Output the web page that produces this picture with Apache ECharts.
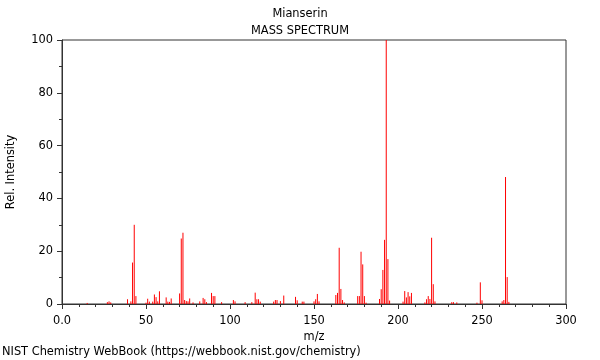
<!DOCTYPE html>
<html>
<head>
<meta charset="utf-8">
<script src="https://cdn.jsdelivr.net/npm/echarts@6/dist/echarts.min.js"></script>
<style>
html,body{margin:0;padding:0;background:#fff;}
#chart{width:600px;height:360px;}
</style>
</head>
<body>
<div id="chart"></div>
<script>
const chartTitle = "Mianserin";
const chartSubtitle = "MASS SPECTRUM";
const xLabel = "m/z";
const yLabel = "Rel. Intensity";
const footer = "NIST Chemistry WebBook (https://webbook.nist.gov/chemistry)";

const mz = [15,27,28,29,39,41,42,43,44,50,51,52,54,55,56,57,58,62,63,64,65,70,71,72,73,74,75,76,78,82,84,85,86,89,90,91,95,102,103,109,113,115,116,117,118,126,127,128,130,132,139,140,143,144,150,151,152,153,163,164,165,166,167,168,176,177,178,179,180,181,189,190,191,192,193,194,195,203,204,205,206,207,208,216,217,218,219,220,221,222,232,233,235,247,249,250,262,263,264,265,266];
const intensity = [0.4,0.7,1.0,0.6,1.8,1.0,15.7,30.0,3.0,0.5,2.0,0.9,0.9,3.6,2.6,1.0,4.8,2.5,0.9,0.8,2.1,4.0,24.8,27.0,1.5,1.1,1.0,2.1,0.6,1.0,2.3,1.8,0.7,4.2,3.0,3.0,0.7,1.5,1.0,0.7,0.7,4.3,1.8,1.8,0.9,0.9,1.5,1.5,1.1,3.2,2.7,1.4,0.9,0.9,1.0,1.8,3.8,1.0,3.4,4.2,21.3,5.7,1.5,0.6,3.0,3.0,19.8,15.0,3.0,0.5,1.9,5.6,12.9,24.3,100,17.0,1.3,0.9,4.9,2.5,4.5,2.9,4.2,0.6,1.8,3.0,1.9,25.1,7.5,1.0,0.7,0.7,0.6,0.5,8.2,1.4,1.0,1.5,48.1,10.2,0.8];

const data = mz.map((m, i) => [m, intensity[i]]);
const font = "DejaVu Sans";
const fs = 11.4;

const chart = echarts.init(document.getElementById('chart'));
chart.setOption({
  animation: false,
  textStyle: { fontFamily: font },
  title: [
    { text: chartTitle, left: 'center', top: 4, textStyle: { fontFamily: font, fontSize: fs, fontWeight: 'normal', color: '#000' } },
    { text: chartSubtitle, left: 'center', top: 21, textStyle: { fontFamily: font, fontSize: fs, fontWeight: 'normal', color: '#000' } },
    { text: footer, left: 2, top: 347, padding: 0, textStyle: { fontFamily: font, fontSize: fs, fontWeight: 'normal', color: '#000' } }
  ],
  grid: { left: 62, right: 34, top: 40, bottom: 56, containLabel: false, outerBoundsMode: 'none', show: true, borderColor: '#333', borderWidth: 1, backgroundColor: 'transparent' },
  xAxis: {
    type: 'value', min: 0, max: 300, interval: 50,
    name: xLabel, nameLocation: 'middle', nameGap: 25,
    nameTextStyle: { fontFamily: font, fontSize: fs, color: '#000' },
    axisLine: { lineStyle: { color: '#333' } },
    axisTick: { length: 5, lineStyle: { color: '#333' } },
    minorTick: { show: true, splitNumber: 5, length: 3, lineStyle: { color: '#333' } },
    axisLabel: { fontFamily: font, fontSize: fs, color: '#000', margin: 12, formatter: v => v === 0 ? '0.0' : String(v) },
    splitLine: { show: false }
  },
  yAxis: {
    type: 'value', min: 0, max: 100, interval: 20,
    name: yLabel, nameLocation: 'middle', nameGap: 45, nameRotate: 90,
    nameTextStyle: { fontFamily: font, fontSize: fs, color: '#000' },
    axisLine: { show: true, lineStyle: { color: '#333' } },
    axisTick: { show: true, length: 5, lineStyle: { color: '#333' } },
    minorTick: { show: true, splitNumber: 2, length: 3, lineStyle: { color: '#333' } },
    axisLabel: { fontFamily: font, fontSize: fs, color: '#000', margin: 9 },
    splitLine: { show: false }
  },
  series: [{
    type: 'custom',
    silent: true,
    emphasis: { disabled: true },
    data: data,
    renderItem: function (params, api) {
      const top = api.coord([api.value(0), api.value(1)]);
      const base = api.coord([api.value(0), 0]);
      return {
        type: 'line',
        shape: { x1: top[0], y1: base[1], x2: top[0], y2: top[1] },
        style: { stroke: '#ff0000', lineWidth: 1 }
      };
    }
  }]
});
</script>
</body>
</html>
